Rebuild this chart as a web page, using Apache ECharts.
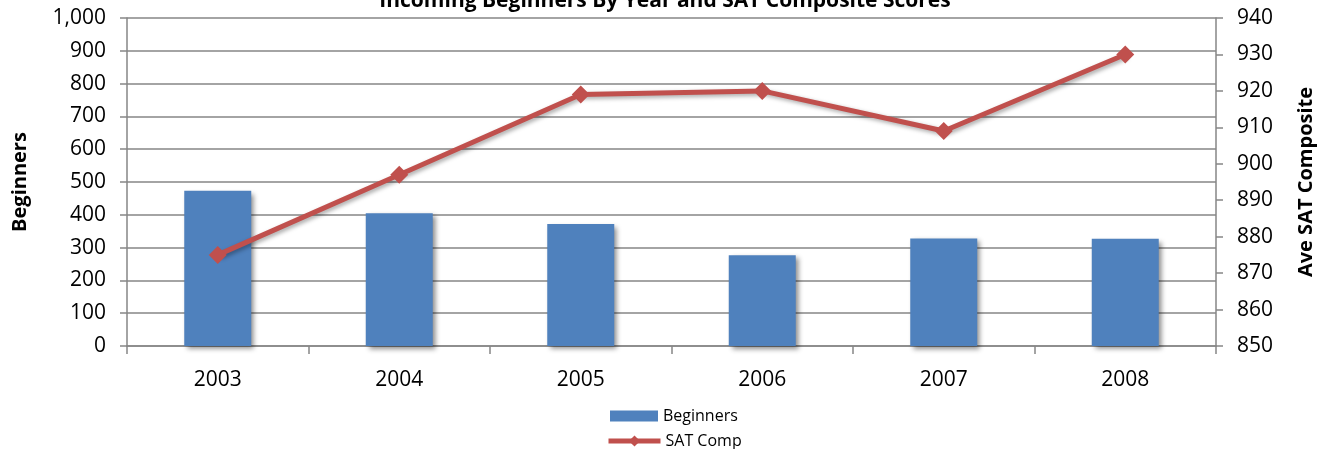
<!DOCTYPE html>
<html>
<head>
<meta charset="utf-8">
<script src="https://cdn.jsdelivr.net/npm/echarts@6/dist/echarts.min.js"></script>
<style>
  html, body { margin: 0; padding: 0; background: #fff; }
  #chart { width: 1331px; height: 449px; }
</style>
</head>
<body>
<div id="chart"></div>
<script>
const years = ['2003', '2004', '2005', '2006', '2007', '2008']
const beginners = [473, 405, 372, 277, 328, 327]
const satComp = [875, 897, 919, 920, 909, 930]

const font = '"Open Sans", sans-serif'
const gray = '#868686'
const legendText = { fontSize: 16, color: '#000', fontFamily: font }

const chart = echarts.init(document.getElementById('chart'))
chart.setOption({
  animation: false,
  textStyle: { fontFamily: font },
  title: {
    text: 'Incoming Beginners By Year and SAT Composite Scores',
    left: 660,
    textAlign: 'center',
    top: -14,
    textStyle: { fontSize: 21, fontWeight: 'bold', color: '#000', fontFamily: font }
  },
  grid: { left: 127, right: 115, top: 18, bottom: 103 },
  // two legends so they stack like the original
  legend: [
    {
      left: 605,
      top: 403,
      itemWidth: 48,
      itemHeight: 11,
      textStyle: legendText,
      data: [{ name: 'Beginners', icon: 'rect' }]
    },
    {
      left: 601,
      top: 428,
      itemWidth: 52,
      itemHeight: 14,
      lineStyle: { width: 5 },
      textStyle: legendText,
      data: [{ name: 'SAT Comp' }]
    }
  ],
  xAxis: {
    type: 'category',
    data: years,
    axisLine: { lineStyle: { color: gray, width: 1.5 } },
    axisTick: { show: true, length: 8, lineStyle: { color: gray, width: 1.5 } },
    axisLabel: { fontSize: 21, color: '#000', margin: 24 }
  },
  yAxis: [
    {
      type: 'value',
      min: 0,
      max: 1000,
      interval: 100,
      name: 'Beginners',
      nameLocation: 'middle',
      nameGap: 97,
      nameTextStyle: { fontSize: 20, fontWeight: 'bold', color: '#000' },
      axisLine: { show: true, lineStyle: { color: gray, width: 1.5 } },
      axisTick: { show: true, length: 7, lineStyle: { color: gray, width: 1.5 } },
      axisLabel: {
        fontSize: 21,
        color: '#000',
        margin: 21,
        formatter: v => v.toLocaleString('en-US')
      },
      splitLine: { lineStyle: { color: gray, width: 1.5 } }
    },
    {
      type: 'value',
      min: 850,
      max: 940,
      interval: 10,
      name: 'Ave SAT Composite',
      nameLocation: 'middle',
      nameGap: 80,
      nameRotate: 90,
      nameTextStyle: { fontSize: 20, fontWeight: 'bold', color: '#000' },
      axisLine: { show: true, lineStyle: { color: gray, width: 1.5 } },
      axisTick: { show: true, length: 7, lineStyle: { color: gray, width: 1.5 } },
      axisLabel: { fontSize: 21, color: '#000', margin: 21 },
      splitLine: { show: false }
    }
  ],
  series: [
    {
      name: 'Beginners',
      type: 'bar',
      data: beginners,
      barWidth: 67,
      itemStyle: {
        color: '#4f81bd',
        shadowColor: 'rgba(0,0,0,0.45)',
        shadowBlur: 5,
        shadowOffsetX: 3,
        shadowOffsetY: 3
      }
    },
    {
      name: 'SAT Comp',
      type: 'line',
      yAxisIndex: 1,
      data: satComp,
      symbol: 'diamond',
      symbolSize: 18,
      lineStyle: {
        color: '#c0504d',
        width: 5,
        shadowColor: 'rgba(0,0,0,0.35)',
        shadowBlur: 4,
        shadowOffsetX: 2,
        shadowOffsetY: 2
      },
      itemStyle: { color: '#c0504d' }
    }
  ]
})
</script>
</body>
</html>
